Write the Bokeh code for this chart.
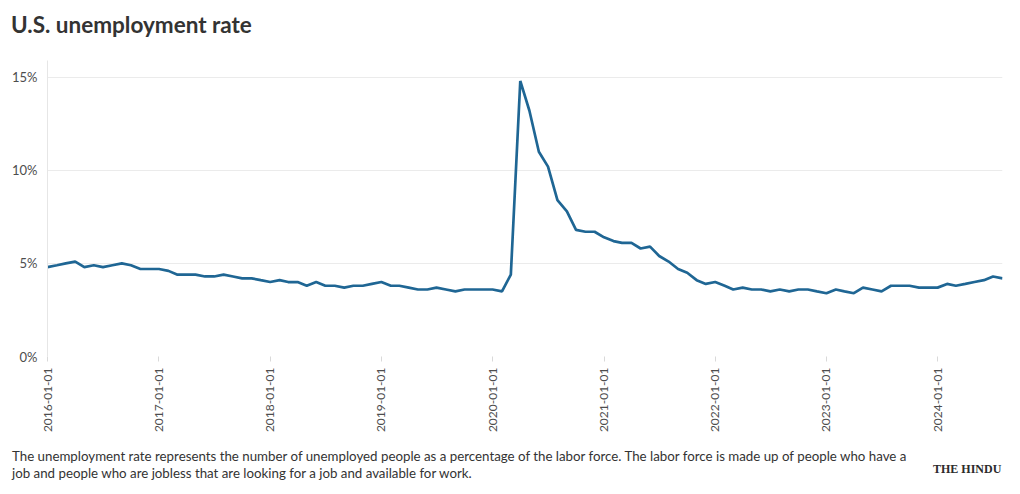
import pandas as pd
from bokeh.plotting import figure
from bokeh.layouts import column
from bokeh.models import (Div, FixedTicker, DatetimeTickFormatter, Range1d,
                          PrintfTickFormatter, ColumnDataSource)
from bokeh.embed import file_html
from bokeh.resources import INLINE

# ---- data (monthly U.S. unemployment rate, %) ----
start_month = "2016-01-01"
rate_2016 = [4.8, 4.9, 5.0, 5.1, 4.8, 4.9, 4.8, 4.9, 5.0, 4.9, 4.7, 4.7]
rate_2017 = [4.7, 4.6, 4.4, 4.4, 4.4, 4.3, 4.3, 4.4, 4.3, 4.2, 4.2, 4.1]
rate_2018 = [4.0, 4.1, 4.0, 4.0, 3.8, 4.0, 3.8, 3.8, 3.7, 3.8, 3.8, 3.9]
rate_2019 = [4.0, 3.8, 3.8, 3.7, 3.6, 3.6, 3.7, 3.6, 3.5, 3.6, 3.6, 3.6]
rate_2020 = [3.6, 3.5, 4.4, 14.8, 13.2, 11.0, 10.2, 8.4, 7.8, 6.8, 6.7, 6.7]
rate_2021 = [6.4, 6.2, 6.1, 6.1, 5.8, 5.9, 5.4, 5.1, 4.7, 4.5, 4.1, 3.9]
rate_2022 = [4.0, 3.8, 3.6, 3.7, 3.6, 3.6, 3.5, 3.6, 3.5, 3.6, 3.6, 3.5]
rate_2023 = [3.4, 3.6, 3.5, 3.4, 3.7, 3.6, 3.5, 3.8, 3.8, 3.8, 3.7, 3.7]
rate_2024 = [3.7, 3.9, 3.8, 3.9, 4.0, 4.1, 4.3, 4.2]

rates = (rate_2016 + rate_2017 + rate_2018 + rate_2019 + rate_2020 +
         rate_2021 + rate_2022 + rate_2023 + rate_2024)
dates = pd.date_range(start_month, periods=len(rates), freq="MS")

tick_years = [2016, 2017, 2018, 2019, 2020, 2021, 2022, 2023, 2024]
y_ticks = [0, 5, 10, 15]

title_text = "U.S. unemployment rate"
caption_1 = ("The unemployment rate represents the number of unemployed people as a "
             "percentage of the labor force. The labor force is made up of people who have a")
caption_2 = "job and people who are jobless that are looking for a job and available for work."
logo_text = "THE HINDU"

FONT = "Lato"
W = 1004


def abs_text(txt, left, center_y, size, weight="normal", family=FONT, color="#333333",
             extra=""):
    return (f'<div style="position:absolute;left:{left}px;top:{center_y - 15}px;'
            f'height:30px;line-height:30px;white-space:nowrap;font-family:\'{family}\';'
            f'font-size:{size};font-weight:{weight};color:{color};{extra}">{txt}</div>')


# header
header = Div(width=W, height=46, margin=0,
             text='<div style="position:relative;width:1004px;height:46px;">'
                  + abs_text(title_text, 11, 25, "22.5px", weight="bold") + '</div>')

# main chart
source = ColumnDataSource(data=dict(date=dates, rate=rates))

p = figure(width=W, height=394, output_backend="svg", toolbar_location=None,
           x_axis_type="datetime",
           x_range=Range1d(dates[0], dates[-1]), y_range=Range1d(0, 15.9),
           min_border_left=47, min_border_right=2, min_border_top=14,
           min_border_bottom=84)
p.outline_line_color = None

p.line(x="date", y="rate", source=source, line_color="#1f6694", line_width=2.7)

tick_ms = [pd.Timestamp(f"{y}-01-01").value // 10**6 for y in tick_years]
p.xaxis.ticker = FixedTicker(ticks=tick_ms)
fmt = "%Y-%m-%d"
p.xaxis.formatter = DatetimeTickFormatter(years=fmt, months=fmt, days=fmt, hours=fmt,
                                          minutes=fmt, seconds=fmt, milliseconds=fmt,
                                          microseconds=fmt, minsec=fmt, hourmin=fmt)
p.xaxis.major_label_orientation = 3.14159265 / 2
p.xaxis.axis_line_color = None
p.xaxis.major_tick_in = 0
p.xaxis.major_tick_out = 5
p.xaxis.major_tick_line_color = "#d9d9d9"
p.xaxis.minor_tick_line_color = None
p.xaxis.major_label_standoff = 6
p.xaxis.major_label_text_font = FONT
p.xaxis.major_label_text_font_size = "12px"
p.xaxis.major_label_text_color = "#4d4d4d"

p.yaxis.ticker = FixedTicker(ticks=y_ticks)
p.yaxis.formatter = PrintfTickFormatter(format="%d%%")
p.yaxis.axis_line_color = "#e6e6e6"
p.yaxis.major_tick_line_color = None
p.yaxis.major_tick_in = 0
p.yaxis.major_tick_out = 0
p.yaxis.minor_tick_line_color = None
p.yaxis.major_label_standoff = 10
p.yaxis.major_label_text_font = FONT
p.yaxis.major_label_text_font_size = "13px"
p.yaxis.major_label_text_color = "#4d4d4d"

p.xgrid.grid_line_color = None
p.ygrid.grid_line_color = "#ebebeb"
p.ygrid.grid_line_width = 1

# footer
footer = Div(width=W, height=46, margin=0,
             text='<div style="position:relative;width:1004px;height:46px;">'
                  + abs_text(caption_1, 12, 16, "13.3px")
                  + abs_text(caption_2, 12, 33, "13.3px")
                  + abs_text(logo_text, 933, 29, "12px", weight="bold",
                             family="Liberation Serif", color="#2b2b2b")
                  + '</div>')

layout = column(header, p, footer, spacing=0)
open("out.html", "w").write(file_html(layout, INLINE))
